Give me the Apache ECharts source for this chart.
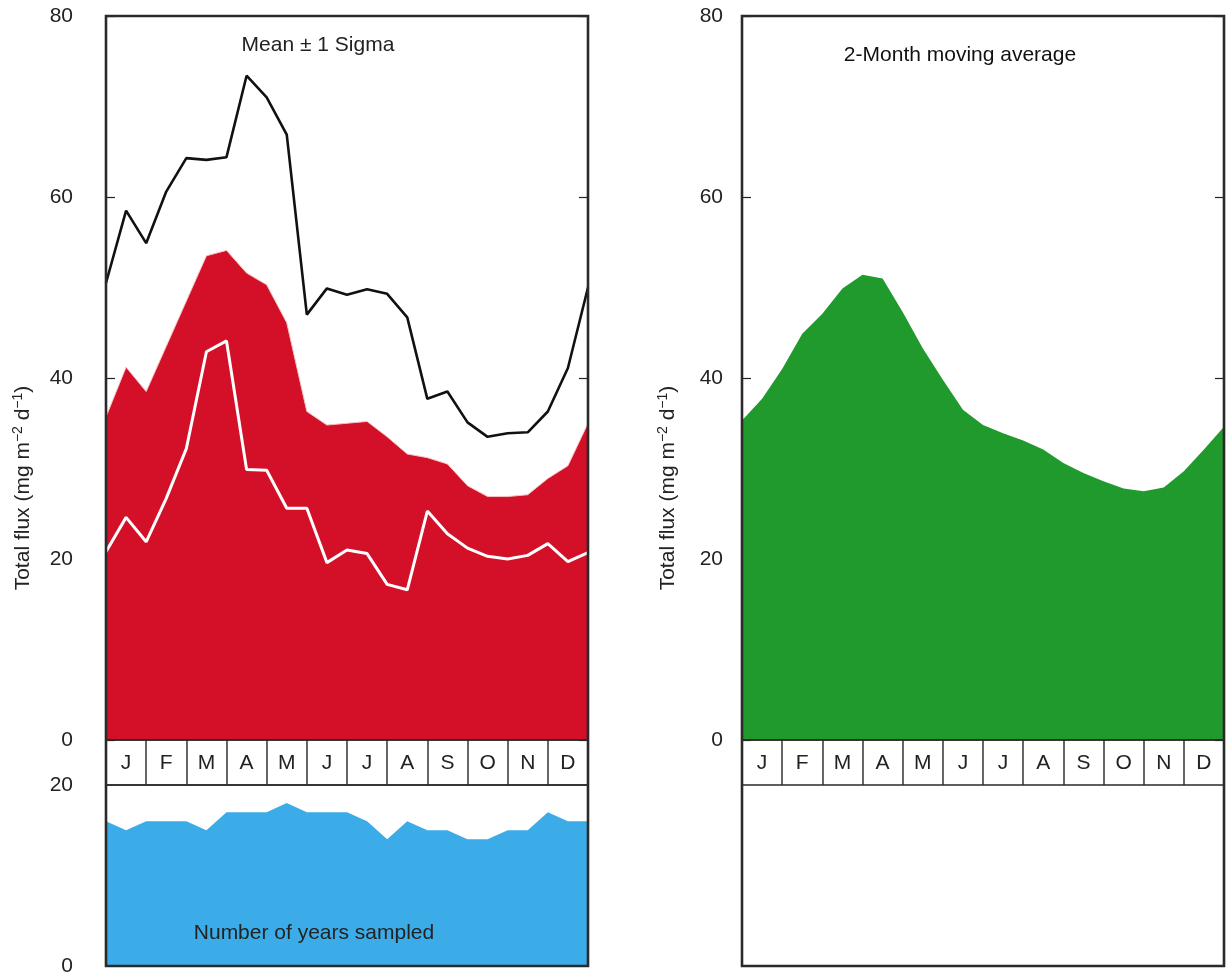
<!DOCTYPE html>
<html>
<head>
<meta charset="utf-8">
<title>Total flux seasonal cycle</title>
<script src="https://cdn.jsdelivr.net/npm/echarts@6/dist/echarts.min.js"></script>
<style>
  html, body { margin: 0; padding: 0; background: #fff; }
  #chart { width: 1226px; height: 980px; }
</style>
</head>
<body>
<div id="chart"></div>
<script>
// Half-month steps: 25 points spanning January to December
const months = ['J', 'F', 'M', 'A', 'M', 'J', 'J', 'A', 'S', 'O', 'N', 'D'];

// Mean total flux and the ±1 sigma envelope (mg m-2 d-1)
const fluxMean = [35.7, 41.2, 38.5, 43.5, 48.5, 53.5, 54.1, 51.6, 50.3, 46.1, 36.3, 34.8, 35.0,
                  35.2, 33.5, 31.6, 31.2, 30.5, 28.1, 26.9, 26.9, 27.1, 28.9, 30.3, 35.0];
const fluxPlusSigma = [50.5, 58.5, 54.9, 60.6, 64.3, 64.1, 64.4, 73.4, 71.0, 66.9, 47.0, 49.9, 49.2,
                       49.8, 49.3, 46.7, 37.7, 38.5, 35.1, 33.5, 33.9, 34.0, 36.3, 41.1, 50.0];
const fluxMinusSigma = [20.8, 24.6, 21.9, 26.7, 32.2, 42.9, 44.1, 29.9, 29.8, 25.6, 25.6, 19.6, 21.0,
                        20.6, 17.2, 16.6, 25.3, 22.8, 21.2, 20.3, 20.0, 20.4, 21.7, 19.7, 20.7];

// Number of years contributing to each half-month
const yearsSampled = [16, 15, 16, 16, 16, 15, 17, 17, 17, 18, 17, 17, 17,
                      16, 14, 16, 15, 15, 14, 14, 15, 15, 17, 16, 16];

// 2-month moving average of the total flux
const movingAvg = [35.3, 37.7, 41.0, 44.9, 47.1, 49.9, 51.4, 51.0, 47.3, 43.3, 39.8, 36.5, 34.8,
                   33.9, 33.1, 32.1, 30.6, 29.5, 28.6, 27.8, 27.5, 27.9, 29.7, 32.1, 34.6];

const fluxTicks = [0, 80, 20];   // min, max, interval
const yearTicks = [0, 20, 20];

const FONT = '"Liberation Sans", Arial, Helvetica, sans-serif';
const TXT = '#222';
const FS = 21;
const pts = arr => arr.map((v, i) => [i, v]);

const chart = echarts.init(document.getElementById('chart'), null, { renderer: 'canvas' });

const frame = (left, top, height, width) => ({
  left, top, width: 482, height, show: true, z: 10,
  backgroundColor: 'transparent', borderColor: '#2a2a2a', borderWidth: width,
  containLabel: false, outerBoundsMode: 'none'
});

const yTitleRich = {
  base: { fontSize: FS, fontFamily: FONT, fill: TXT },
  sup: { fontSize: 14, fontFamily: FONT, fill: TXT, padding: [0, 0, 10, 0] }
};
const yTitle = '{base|Total flux (mg m}{sup|−2}{base| d}{sup|−1}{base|)}';

const hiddenX = (gridIndex, max) => ({
  gridIndex, type: 'value', min: 0, max, show: false
});
const hiddenY = gridIndex => ({ gridIndex, type: 'value', min: 0, max: 1, show: false });

const fluxAxis = (gridIndex, margin) => ({
  gridIndex, type: 'value', min: fluxTicks[0], max: fluxTicks[1], interval: fluxTicks[2],
  axisLine: { show: false },
  axisTick: { show: true, inside: true, length: 9, lineStyle: { color: '#222', width: 1.2 } },
  splitLine: { show: false },
  axisLabel: { margin, fontSize: FS, fontFamily: FONT, color: TXT }
});
const fluxAxisRight = gridIndex => ({
  gridIndex, type: 'value', position: 'right',
  min: fluxTicks[0], max: fluxTicks[1], interval: fluxTicks[2],
  axisLine: { show: false },
  axisTick: { show: true, inside: true, length: 9, lineStyle: { color: '#222', width: 1.2 } },
  splitLine: { show: false }, axisLabel: { show: false }
});
const monthAxis = gridIndex => ({
  gridIndex, type: 'category', data: months, boundaryGap: true,
  axisLine: { show: false }, axisTick: { show: false },
  splitLine: { show: true, interval: 0, lineStyle: { color: '#333', width: 1.5 } },
  axisLabel: { inside: true, interval: 0, margin: 22, verticalAlign: 'middle',
               fontSize: FS, fontFamily: FONT, color: TXT }
});

const caption = (x, y, text, extra) => Object.assign({
  type: 'text', x, y, z: 20,
  style: { text, fontSize: FS, fontFamily: FONT, fill: TXT,
           textAlign: 'center', textVerticalAlign: 'middle' }
}, extra || {});

const option = {
  animation: false,
  backgroundColor: '#fff',
  grid: [
    frame(106, 16, 724, 1.6),   // 0 left flux panel
    frame(106, 740, 45, 1.6),   // 1 left month band
    frame(106, 785, 181, 1.6),  // 2 years sampled
    frame(742, 16, 724, 1.6),   // 3 right flux panel
    frame(742, 740, 45, 1.6),   // 4 right month band
    frame(106, 16, 950, 2.6),   // 5 left outer frame
    frame(742, 16, 950, 2.6)    // 6 right outer frame
  ],
  xAxis: [
    hiddenX(0, 24),
    monthAxis(1),
    hiddenX(2, 24),
    hiddenX(3, 24),
    monthAxis(4),
    hiddenX(5, 1),
    hiddenX(6, 1)
  ],
  yAxis: [
    fluxAxis(0, 33),                            // 0
    fluxAxisRight(0),                           // 1
    hiddenY(1),                                 // 2
    {                                           // 3 years sampled
      gridIndex: 2, type: 'value', min: yearTicks[0], max: yearTicks[1], interval: yearTicks[2],
      axisLine: { show: false }, axisTick: { show: false }, splitLine: { show: false },
      axisLabel: { margin: 33, fontSize: FS, fontFamily: FONT, color: TXT }
    },
    fluxAxis(3, 19),                            // 4
    fluxAxisRight(3),                           // 5
    hiddenY(4),                                 // 6
    hiddenY(5),                                 // 7
    hiddenY(6)                                  // 8
  ],
  series: [
    {
      name: 'Mean', type: 'line', xAxisIndex: 0, yAxisIndex: 0,
      data: pts(fluxMean), symbol: 'none', z: 2,
      lineStyle: { color: '#f3c4c4', width: 1 },
      areaStyle: { color: '#d31027', opacity: 1 }
    },
    {
      name: 'Mean - 1 sigma', type: 'line', xAxisIndex: 0, yAxisIndex: 0,
      data: pts(fluxMinusSigma), symbol: 'none', z: 3,
      lineStyle: { color: '#ffffff', width: 3 }
    },
    {
      name: 'Mean + 1 sigma', type: 'line', xAxisIndex: 0, yAxisIndex: 0,
      data: pts(fluxPlusSigma), symbol: 'none', z: 3,
      lineStyle: { color: '#111', width: 2.6 }
    },
    {
      name: 'Years sampled', type: 'line', xAxisIndex: 2, yAxisIndex: 3,
      data: pts(yearsSampled), symbol: 'none', z: 2,
      lineStyle: { width: 0 },
      areaStyle: { color: '#3cace9', opacity: 1 }
    },
    {
      name: '2-month moving average', type: 'line', xAxisIndex: 3, yAxisIndex: 4,
      data: pts(movingAvg), symbol: 'none', z: 2,
      lineStyle: { width: 0 },
      areaStyle: { color: '#219a2d', opacity: 1 }
    }
  ],
  graphic: [
    caption(318, 45, 'Mean ± 1 Sigma'),
    caption(960, 55, '2-Month moving average', { style: { text: '2-Month moving average',
      fontSize: FS, fontFamily: FONT, fill: '#111', textAlign: 'center', textVerticalAlign: 'middle' } }),
    caption(314, 933, 'Number of years sampled'),
    { type: 'text', x: 23, y: 488, rotation: Math.PI / 2, z: 20,
      style: { text: yTitle, rich: yTitleRich, fontSize: FS, fontFamily: FONT, fill: TXT,
               textAlign: 'center', textVerticalAlign: 'middle' } },
    { type: 'text', x: 668, y: 488, rotation: Math.PI / 2, z: 20,
      style: { text: yTitle, rich: yTitleRich, fontSize: FS, fontFamily: FONT, fill: TXT,
               textAlign: 'center', textVerticalAlign: 'middle' } }
  ]
};

chart.setOption(option);
</script>
</body>
</html>
